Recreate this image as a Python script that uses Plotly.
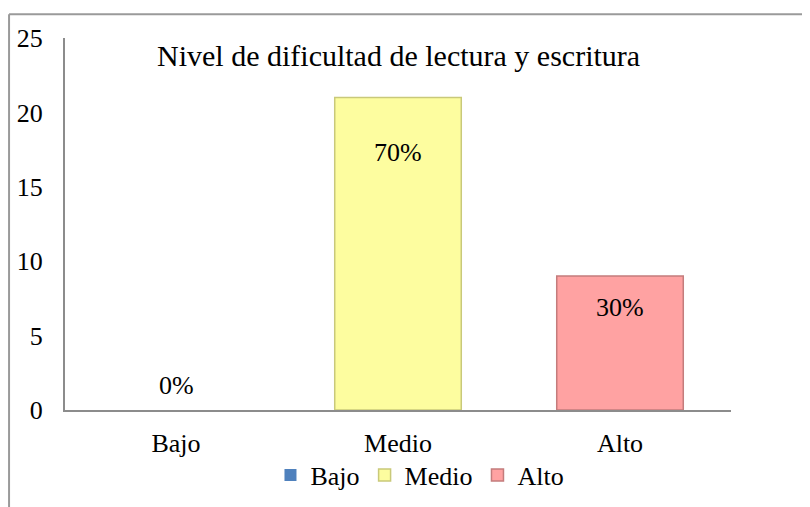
import plotly.graph_objects as go

categories = ["Bajo", "Medio", "Alto"]
values = [0, 21, 9]
pct_labels = ["0%", "70%", "30%"]
title_text = "Nivel de dificultad de lectura y escritura"
y_ticks = [0, 5, 10, 15, 20, 25]

colors = ["#4f81bd", "#fdfd9f", "#ffa2a2"]
edges = ["#3a6194", "#c9c97a", "#c47c7c"]
label_shift = [25, -55, -31]

FONT = "Liberation Serif"

fig = go.Figure()
for c, v, col, ed in zip(categories, values, colors, edges):
    fig.add_trace(go.Bar(
        x=[c], y=[v], name=c,
        marker=dict(color=col, line=dict(color=ed, width=1.5 if v > 0 else 0)),
    ))

for c, v, t, s in zip(categories, values, pct_labels, label_shift):
    fig.add_annotation(x=c, y=v, text=t, showarrow=False, yshift=s,
                       font=dict(family=FONT, size=26, color="#000"))

fig.add_annotation(xref="paper", yref="paper", x=0.5, y=0.954, text=title_text,
                   showarrow=False, xanchor="center", yanchor="middle",
                   font=dict(family=FONT, size=30, color="#000"))

# outer chart border (only top and left visible in the frame)
fig.add_shape(type="line", xref="paper", yref="paper",
              x0=-0.084, y0=1.064, x1=1.3, y1=1.064,
              line=dict(color="#9a9a9a", width=2))
fig.add_shape(type="line", xref="paper", yref="paper",
              x0=-0.084, y0=1.064, x1=-0.084, y1=-0.5,
              line=dict(color="#9a9a9a", width=2))

fig.update_layout(
    width=802, height=499,
    margin=dict(l=57, r=79, t=30, b=97, autoexpand=False),
    paper_bgcolor="white", plot_bgcolor="white",
    barmode="overlay", bargap=0.43,
    font=dict(family=FONT, size=26, color="#000"),
    showlegend=True,
    legend=dict(orientation="h", x=0.533, xanchor="center", y=-0.175, yanchor="middle",
                font=dict(family=FONT, size=26, color="#000"),
                itemwidth=30, tracegroupgap=0, traceorder="normal", bgcolor="rgba(0,0,0,0)"),
    xaxis=dict(showline=True, linecolor="#8c8c8c", linewidth=2, showgrid=False,
               ticks="", ticklabelstandoff=9, zeroline=False, automargin=False,
               tickfont=dict(family=FONT, size=26)),
    yaxis=dict(range=[0, 25], tickvals=y_ticks, showline=True, linecolor="#8c8c8c", linewidth=2,
               showgrid=False, zeroline=False, ticks="", ticklabelstandoff=15, automargin=False,
               tickfont=dict(family=FONT, size=26)),
)

fig.write_html("out.html")
